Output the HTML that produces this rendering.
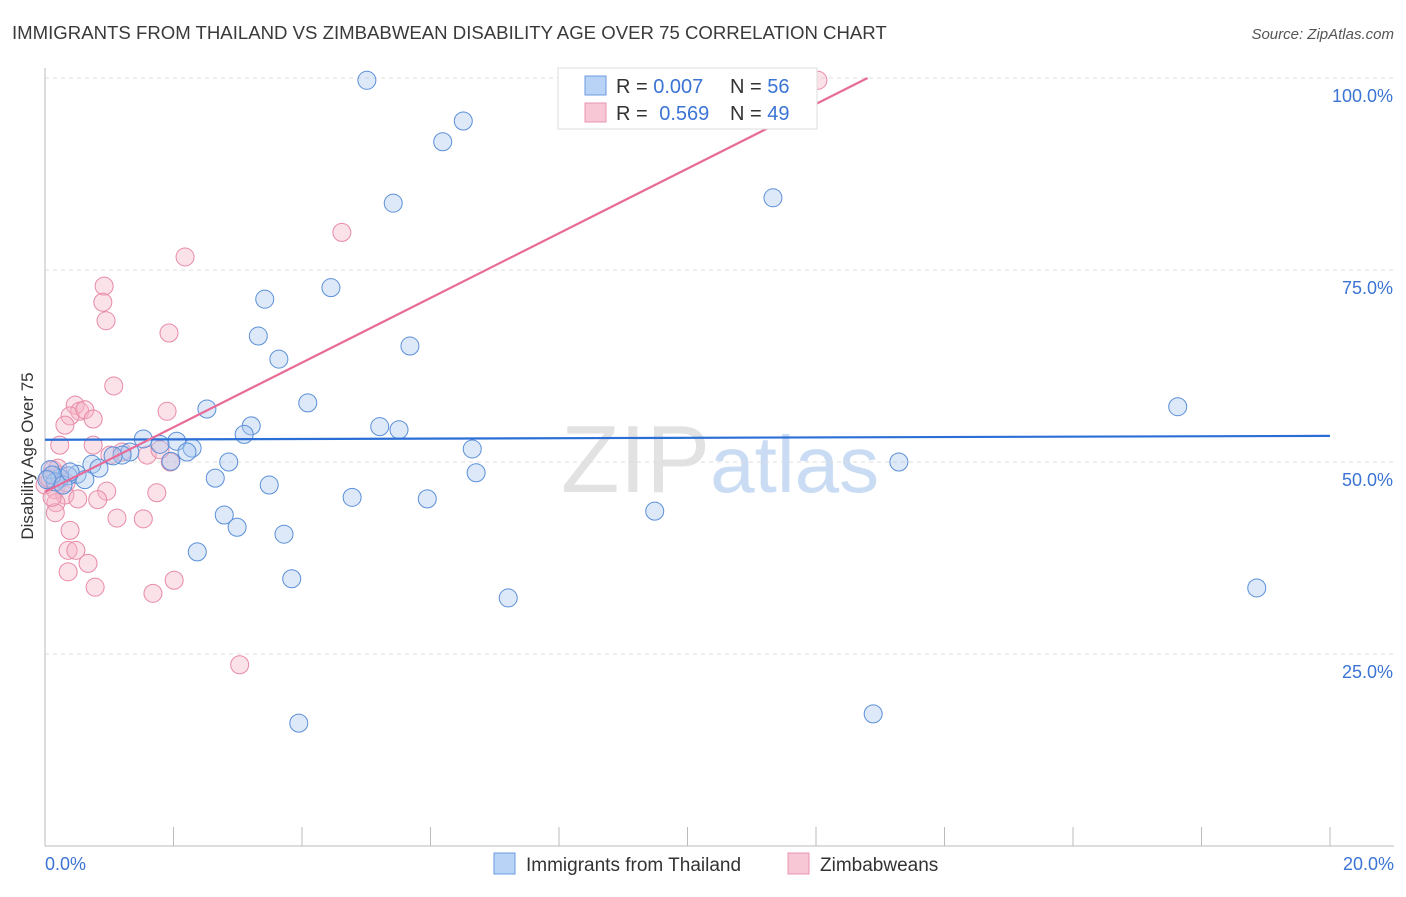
<!DOCTYPE html>
<html><head><meta charset="utf-8"><style>
body{margin:0;background:#fff;font-family:"Liberation Sans",sans-serif}
svg text{font-family:"Liberation Sans",sans-serif}
</style></head><body>
<svg id="chart" width="1406" height="892" xmlns="http://www.w3.org/2000/svg">
<text x="12" y="39" font-size="18.6" fill="#3a3a3a">IMMIGRANTS FROM THAILAND VS ZIMBABWEAN DISABILITY AGE OVER 75 CORRELATION CHART</text>
<text x="1394" y="39" font-size="15" fill="#555" text-anchor="end" font-style="italic">Source: ZipAtlas.com</text>
<text x="720" y="492" font-size="96" text-anchor="middle" fill="#e2e2e2" font-family="Liberation Serif">ZIP<tspan fill="#c9dcf3" font-family="Liberation Sans" font-size="80">atlas</tspan></text>
<g id="grid"></g>
<g id="axes"></g>
<g id="pts"></g>
<g id="lines"></g>
<text transform="translate(33,456) rotate(-90)" font-size="17" fill="#333" text-anchor="middle">Disability Age Over 75</text>
<g>
<rect x="558" y="68" width="259" height="61" fill="#fff" stroke="#ddd"/>
<rect x="585" y="76" width="21" height="19" fill="#b8d3f5" stroke="#6a9be0"/>
<rect x="585" y="103" width="21" height="19" fill="#f8c7d5" stroke="#ea93b0"/>
<text x="616" y="93" font-size="20" fill="#333">R = <tspan fill="#3b74d4">0.007</tspan></text>
<text x="730" y="93" font-size="20" fill="#333">N = <tspan fill="#3b74d4">56</tspan></text>
<text x="616" y="120" font-size="20" fill="#333">R = <tspan fill="#3b74d4" dx="6">0.569</tspan></text>
<text x="730" y="120" font-size="20" fill="#333">N = <tspan fill="#3b74d4">49</tspan></text>
</g>
<g>
<rect x="494" y="853" width="21" height="21" fill="#b8d3f5" stroke="#6a9be0"/>
<text x="526" y="871" font-size="19" fill="#333">Immigrants from Thailand</text></g>
<g>
<rect x="788" y="853" width="21" height="21" fill="#f8c7d5" stroke="#ea93b0"/>
<text x="820" y="871" font-size="19" fill="#333">Zimbabweans</text></g>
</svg>
<script>
const blueX=[5.01,6.51,6.19,5.42,11.33,3.42,4.45,3.32,3.64,5.68,2.52,4.09,17.63,3.21,3.10,5.21,5.51,1.53,2.05,1.79,2.29,2.21,1.32,1.20,1.06,1.96,2.86,6.65,13.29,0.73,0.84,0.50,0.36,0.23,0.62,0.08,0.16,2.65,6.71,3.49,4.78,5.95,2.79,2.99,9.49,3.72,2.37,3.84,7.21,18.86,3.95,12.89,0.11,0.03,0.28,0.39];
const blueY=[99.7,94.4,91.7,83.7,84.4,71.2,72.7,66.4,63.4,65.1,56.9,57.7,57.2,54.7,53.6,54.6,54.2,53.0,52.7,52.3,51.8,51.3,51.3,50.9,50.8,50.1,50.0,51.7,50.0,49.7,49.2,48.4,48.2,47.9,47.7,49.0,47.4,47.9,48.6,47.0,45.4,45.2,43.1,41.5,43.6,40.6,38.3,34.8,32.3,33.6,16.0,17.2,48.3,47.7,47.0,48.7];
const pinkX=[12.03,4.62,2.18,0.92,0.90,0.95,1.93,1.07,0.47,0.54,0.39,0.62,0.31,0.75,1.90,0.23,0.75,1.20,1.59,1.95,0.12,0.23,0.08,0,0.16,0.31,0.96,1.74,0.51,0.82,0.17,0.16,0.39,1.12,1.53,0.36,0.48,0.67,0.36,0.78,1.68,2.01,3.03,0.05,0.20,0.11,0.33,1.01,1.79];
const pinkY=[99.7,79.9,76.7,72.9,70.8,68.4,66.8,59.9,57.4,56.6,56.0,56.8,54.8,55.6,56.6,52.2,52.2,51.3,50.9,50.0,49.0,48.3,47.7,47.0,46.4,45.7,46.2,46.0,45.2,45.1,44.7,43.4,41.1,42.7,42.6,38.5,38.5,36.8,35.7,33.7,32.9,34.6,23.6,47.9,49.2,45.4,47.3,50.9,51.6];
const blueFit=[52.9,0.025];
const pinkFit=[46.1,4.21];
const yTicks=[25,50,75,100];
const xTickLabels=["0.0%","20.0%"];
const X=v=>45+v*64.25, Y=v=>846-v*7.68;
const NS="http://www.w3.org/2000/svg";
function mk(t,a,p){const e=document.createElementNS(NS,t);for(const k in a)e.setAttribute(k,a[k]);p.appendChild(e);return e;}
const grid=document.getElementById('grid'),axes=document.getElementById('axes'),pts=document.getElementById('pts'),lines=document.getElementById('lines');
yTicks.forEach(t=>{const l=mk('line',{x1:45,x2:1394,y1:Y(t),y2:Y(t),stroke:'#ddd','stroke-dasharray':'4,4'},grid);


const tx=mk('text',{x:1393,y:Y(t)+24,'font-size':18,fill:'#3b74d4','text-anchor':'end'},axes);tx.textContent=t.toFixed(1)+'%';

});
const ax=mk('line',{x1:45,x2:1394,y1:846,y2:846,stroke:'#bbb'},axes);


const ay=mk('line',{x1:45,x2:45,y1:68,y2:846,stroke:'#bbb'},axes);


for(let i=0;i<=10;i++){const tk=mk('line',{x1:X(i*2),x2:X(i*2),y1:827,y2:846,stroke:'#bbb'},axes);

}
const l0=mk('text',{x:45,y:870,'font-size':18,fill:'#3b74d4'},axes);l0.textContent=xTickLabels[0];


const l1=mk('text',{x:1394,y:870,'font-size':18,fill:'#3b74d4','text-anchor':'end'},axes);l1.textContent=xTickLabels[1];


function dots(xs,ys,fill,stroke,name){xs.forEach((x,i)=>{const c=mk('circle',{cx:X(x),cy:Y(ys[i]),r:9,fill:fill,'fill-opacity':0.4,stroke:stroke,'stroke-width':1},pts);

});}
dots(pinkX,pinkY,'#f4b3c6','#e88aa8','point-zimbabweans');
dots(blueX,blueY,'#a9c9f1','#5b8fd8','point-thailand');
const bl=mk('line',{x1:X(0),y1:Y(blueFit[0]),x2:X(20),y2:Y(blueFit[0]+blueFit[1]*20),stroke:'#2b6fd6','stroke-width':2.2},lines);


const xe=(100-pinkFit[0])/pinkFit[1];
const pl=mk('line',{x1:X(0),y1:Y(pinkFit[0]),x2:X(xe),y2:Y(100),stroke:'#e86a96','stroke-width':2.2},lines);


</script>
</body></html>
